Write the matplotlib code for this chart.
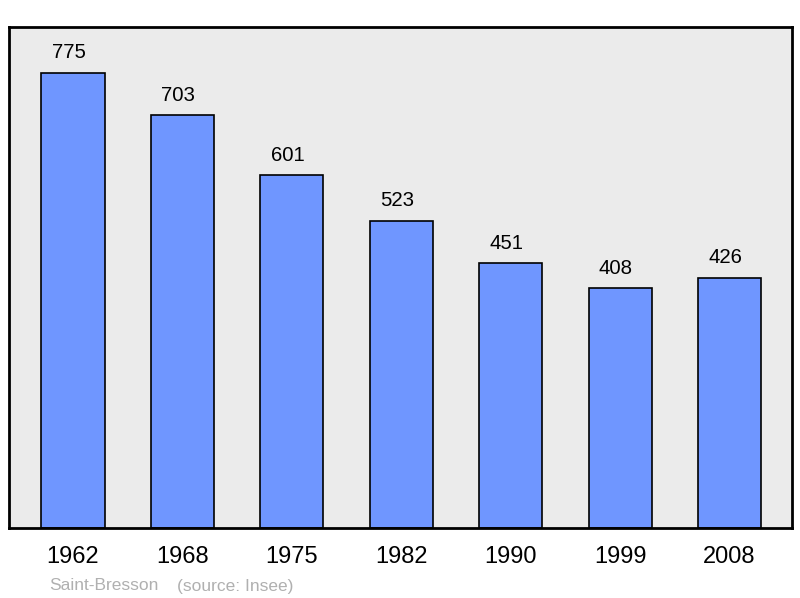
import matplotlib.pyplot as plt

years = ["1962", "1968", "1975", "1982", "1990", "1999", "2008"]
population = [775, 703, 601, 523, 451, 408, 426]

plt.rcParams['font.family'] = ['Liberation Sans', 'DejaVu Sans']

fig = plt.figure(figsize=(8, 5.98), dpi=100)
ax = fig.add_axes([9 / 800, 70 / 598, 783 / 800, 501 / 598])
ax.set_facecolor("#ebebeb")

x = list(range(len(years)))
ax.bar(x, population, width=0.576, color="#6f96ff", edgecolor="black", linewidth=1.2, zorder=2)

for xi, v in zip(x, population):
    ax.annotate(str(v), (xi, v), xytext=(-3, 14.3), textcoords="offset points",
                ha="center", va="center", fontsize=14.7)

ax.set_xlim(-0.585, 6.571)
ax.set_ylim(0, 853)
ax.set_xticks(x)
ax.set_xticklabels(years, fontsize=17)
ax.tick_params(axis="x", length=0, pad=13)
ax.set_yticks([])
for s in ax.spines.values():
    s.set_linewidth(2)

fig.text(49 / 800, 1 - 586 / 598, "Saint-Bresson", color="#b0b0b0", fontsize=12.5, va="center")
fig.text(177 / 800, 1 - 586 / 598, "(source: Insee)", color="#b0b0b0", fontsize=12.5, va="center")

fig.savefig("out.png", dpi=100)
